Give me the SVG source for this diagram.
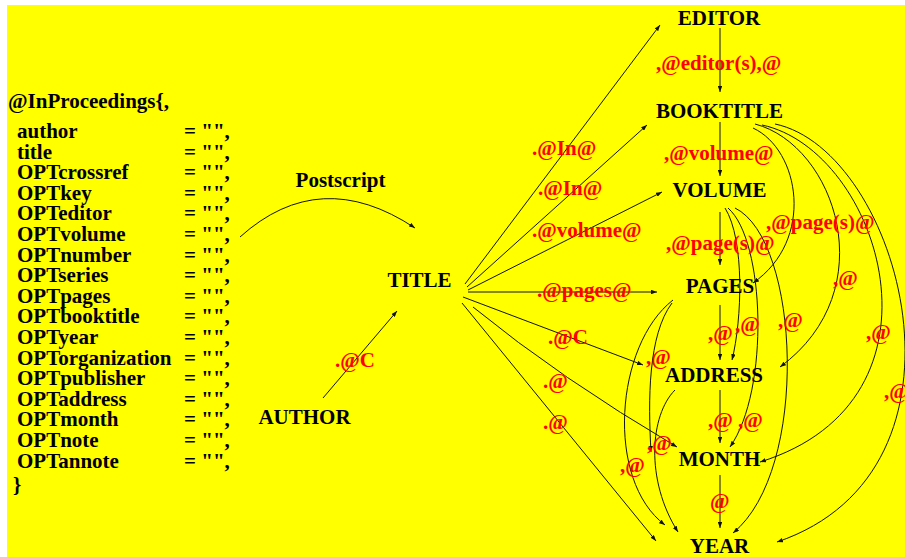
<svg xmlns="http://www.w3.org/2000/svg" width="905" height="557" viewBox="0 0 905 557">
<defs>
<style>
.t{font-family:"Liberation Serif","Times New Roman",serif;font-weight:bold;font-size:21px}
.node{fill:#000;text-anchor:middle}
.src{fill:#000}
.lbl{fill:#ff0000}
.e{fill:none;stroke:#111;stroke-width:1;marker-end:url(#ah)}
</style>
<marker id="ah" viewBox="0 0 8 6" refX="8" refY="3" markerWidth="6" markerHeight="4.5" markerUnits="userSpaceOnUse" orient="auto">
<path d="M0,0 L8,3 L0,6 z" fill="#111"/>
</marker>
</defs>
<rect x="0" y="0" width="905" height="557" fill="#ffffff"/>
<rect x="7" y="5" width="898" height="552" fill="#ffff00"/>

<g id="bibtex-entry" class="t src">
<text x="8" y="108">@InProceedings{,</text>
<text x="17" y="138">author</text><text x="184" y="138">= "",</text>
<text x="17" y="158.6">title</text><text x="184" y="158.6">= "",</text>
<text x="17" y="179.2">OPTcrossref</text><text x="184" y="179.2">= "",</text>
<text x="17" y="199.8">OPTkey</text><text x="184" y="199.8">= "",</text>
<text x="17" y="220.4">OPTeditor</text><text x="184" y="220.4">= "",</text>
<text x="17" y="241">OPTvolume</text><text x="184" y="241">= "",</text>
<text x="17" y="261.6">OPTnumber</text><text x="184" y="261.6">= "",</text>
<text x="17" y="282.2">OPTseries</text><text x="184" y="282.2">= "",</text>
<text x="17" y="302.8">OPTpages</text><text x="184" y="302.8">= "",</text>
<text x="17" y="323.4">OPTbooktitle</text><text x="184" y="323.4">= "",</text>
<text x="17" y="344">OPTyear</text><text x="184" y="344">= "",</text>
<text x="17" y="364.6">OPTorganization</text><text x="184" y="364.6">= "",</text>
<text x="17" y="385.2">OPTpublisher</text><text x="184" y="385.2">= "",</text>
<text x="17" y="405.8">OPTaddress</text><text x="184" y="405.8">= "",</text>
<text x="17" y="426.4">OPTmonth</text><text x="184" y="426.4">= "",</text>
<text x="17" y="447">OPTnote</text><text x="184" y="447">= "",</text>
<text x="17" y="467.6">OPTannote</text><text x="184" y="467.6">= "",</text>
<text x="13" y="492">}</text>
</g>

<g id="connectors">
<path class="e" d="M240,237 Q320,165 415,228"/>
<path class="e" d="M323,398 L397,311"/>
<path class="e" d="M465,284 L660,25"/>
<path class="e" d="M467,287 L647,125"/>
<path class="e" d="M468,290 L662,192"/>
<path class="e" d="M468,292 L657,292"/>
<path class="e" d="M463,297 L643,365"/>
<path class="e" d="M473,307 Q560,378 677,447"/>
<path class="e" d="M462,303 L656,541"/>
<path class="e" d="M720,28 L720,92"/>
<path class="e" d="M720,122 L720,176"/>
<path class="e" d="M720,212 L720,265"/>
<path class="e" d="M720,305 L720,360"/>
<path class="e" d="M720,390 L720,443"/>
<path class="e" d="M720,475 L720,528"/>
<path class="e" d="M753,128 C800,150 815,240 753,283"/>
<path class="e" d="M755,124 C835,145 885,290 780,367"/>
<path class="e" d="M762,125 C880,150 960,400 760,462"/>
<path class="e" d="M775,124 C900,150 990,470 777,542"/>
<path class="e" d="M725,208 C745,240 742,320 732,360"/>
<path class="e" d="M728,208 C765,240 770,390 730,447"/>
<path class="e" d="M735,208 C800,240 810,470 733,533"/>
<path class="e" d="M673,300 C615,345 605,480 665,525"/>
<path class="e" d="M672,303 C648,335 648,400 651,452"/>
<path class="e" d="M675,390 C650,415 645,480 678,532"/>
</g>

<g id="edge-labels" class="t lbl">
<text x="335" y="367">.@C</text>
<text x="656" y="70">,@editor(s),@</text>
<text x="664" y="160">,@volume@</text>
<text x="666" y="250">,@page(s)@</text>
<text x="766" y="229">,@page(s)@</text>
<text x="532" y="155">.@In@</text>
<text x="538" y="195">.@In@</text>
<text x="532" y="237">.@volume@</text>
<text x="537" y="297">.@pages@</text>
<text x="548" y="344">.@C</text>
<text x="543" y="388">.@</text>
<text x="543" y="429">.@</text>
<text x="646" y="364">,@</text>
<text x="708" y="340">,@</text>
<text x="735" y="331">,@</text>
<text x="778" y="327">,@</text>
<text x="833" y="285">,@</text>
<text x="866" y="339">,@</text>
<text x="884" y="398">,@</text>
<text x="708" y="427">,@</text>
<text x="738" y="427">,@</text>
<text x="647" y="450">,@</text>
<text x="620" y="472">,@</text>
<text x="710" y="508">@</text>
</g>

<g id="node-postscript" class="t node"><text x="340.5" y="187">Postscript</text></g>
<g id="node-title" class="t node"><text x="419.5" y="287">TITLE</text></g>
<g id="node-author" class="t node"><text x="304.5" y="424">AUTHOR</text></g>
<g id="node-editor" class="t node"><text x="719" y="25">EDITOR</text></g>
<g id="node-booktitle" class="t node"><text x="719.5" y="118">BOOKTITLE</text></g>
<g id="node-volume" class="t node"><text x="719.5" y="197">VOLUME</text></g>
<g id="node-pages" class="t node"><text x="720" y="293">PAGES</text></g>
<g id="node-address" class="t node"><text x="714" y="382">ADDRESS</text></g>
<g id="node-month" class="t node"><text x="719.5" y="466">MONTH</text></g>
<g id="node-year" class="t node"><text x="719.5" y="553">YEAR</text></g>
</svg>
